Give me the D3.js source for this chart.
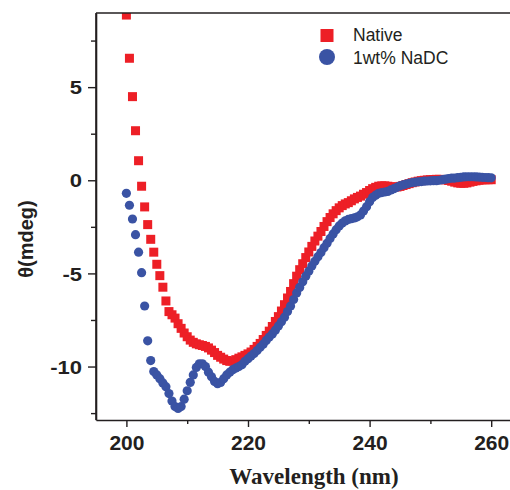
<!DOCTYPE html>
<html><head><meta charset="utf-8">
<script src="https://cdn.jsdelivr.net/npm/d3@7"></script>
<style>
html,body{margin:0;padding:0;background:#fff;}
svg{display:block;}
</style></head>
<body>
<svg id="chart" width="510" height="490"></svg>
<script>
const wavelength = [
200,200.5,201,201.5,202,202.5,203,203.5,204,204.5,
205,205.5,206,206.5,207,207.5,208,208.5,209,209.5,
210,210.5,211,211.5,212,212.5,213,213.5,214,214.5,
215,215.5,216,216.5,217,217.5,218,218.5,219,219.5,
220,220.5,221,221.5,222,222.5,223,223.5,224,224.5,
225,225.5,226,226.5,227,227.5,228,228.5,229,229.5,
230,230.5,231,231.5,232,232.5,233,233.5,234,234.5,
235,235.5,236,236.5,237,237.5,238,238.5,239,239.5,
240,240.5,241,241.5,242,242.5,243,243.5,244,244.5,
245,245.5,246,246.5,247,247.5,248,248.5,249,249.5,
250,250.5,251,251.5,252,252.5,253,253.5,254,254.5,
255,255.5,256,256.5,257,257.5,258,258.5,259,259.5,
260];

const nativeVals = [
8.87,6.55,4.49,2.66,1.05,-0.32,-1.43,-2.38,-3.17,-3.86,
-4.51,-5.12,-5.74,-6.48,-7.05,-7.22,-7.4,-7.7,-7.95,-8.2,
-8.4,-8.58,-8.7,-8.78,-8.83,-8.87,-8.92,-9.0,-9.12,-9.25,
-9.4,-9.5,-9.6,-9.68,-9.72,-9.7,-9.63,-9.55,-9.48,-9.4,
-9.32,-9.22,-9.08,-8.92,-8.76,-8.55,-8.33,-8.1,-7.85,-7.58,
-7.32,-7.02,-6.68,-6.32,-5.97,-5.55,-5.15,-4.8,-4.48,-4.15,
-3.85,-3.55,-3.26,-3.0,-2.75,-2.48,-2.22,-2.0,-1.8,-1.63,
-1.48,-1.36,-1.27,-1.2,-1.1,-1.0,-0.92,-0.85,-0.75,-0.66,
-0.55,-0.45,-0.38,-0.32,-0.3,-0.3,-0.32,-0.35,-0.37,-0.36,
-0.33,-0.28,-0.23,-0.18,-0.13,-0.09,-0.05,-0.02,0.0,0.02,
0.03,0.04,0.05,0.05,0.04,0.02,-0.01,-0.05,-0.1,-0.14,
-0.16,-0.16,-0.14,-0.1,-0.06,-0.03,0.0,0.02,0.03,0.03,
0.03];

const nadcVals = [
-0.70,-1.34,-2.08,-2.92,-3.86,-4.96,-6.75,-8.62,-9.68,-10.27,
-10.45,-10.65,-10.88,-11.08,-11.45,-11.85,-12.15,-12.25,-12.15,-11.75,
-11.3,-10.85,-10.45,-10.05,-9.85,-9.85,-10.0,-10.3,-10.55,-10.8,
-10.92,-10.85,-10.65,-10.45,-10.3,-10.17,-10.08,-10.0,-9.9,-9.72,
-9.58,-9.44,-9.3,-9.14,-8.97,-8.8,-8.6,-8.42,-8.25,-8.05,
-7.82,-7.6,-7.35,-7.05,-6.75,-6.4,-6.05,-5.75,-5.45,-5.15,
-4.88,-4.6,-4.35,-4.1,-3.88,-3.62,-3.38,-3.12,-2.88,-2.65,
-2.45,-2.3,-2.18,-2.1,-2.06,-2.02,-1.96,-1.86,-1.65,-1.42,
-1.15,-0.92,-0.8,-0.7,-0.66,-0.63,-0.6,-0.52,-0.45,-0.38,
-0.3,-0.25,-0.2,-0.16,-0.12,-0.1,-0.08,-0.07,-0.05,-0.04,
-0.03,-0.02,-0.02,0.0,0.03,0.06,0.09,0.11,0.12,0.14,
0.16,0.18,0.19,0.19,0.19,0.18,0.17,0.16,0.15,0.14,
0.13];

const seriesNames = ["Native", "1wt% NaDC"];
const xMajorTicks = [200, 220, 240, 260];
const xMinorTicks = [210, 230, 250];
const yMajorTicks = [-10, -5, 0, 5];
const yMinorTicks = [-12.5, -7.5, -2.5, 2.5, 7.5];

const RED = "#ED1F26", BLUE = "#3A53A4", INK = "#231F20";
const SANS = "'Liberation Sans', Arial, Helvetica, sans-serif";
const SERIF = "'Liberation Serif', 'Times New Roman', serif";

const L = 96, T = 13, B = 420, R = 521.6;
const x = d3.scaleLinear().domain([195, 265]).range([L, R]);
const y = d3.scaleLinear().domain([-12.87, 8.98]).range([B, T]);

const svg = d3.select("#chart");

svg.append("defs").append("clipPath").attr("id", "plotClip")
  .append("rect").attr("x", L).attr("y", T).attr("width", R - L).attr("height", B - T);

const plot = svg.append("g").attr("clip-path", "url(#plotClip)");

const sq = 9;
plot.append("g").selectAll("rect")
  .data(wavelength.map((w, i) => [w, nativeVals[i]]))
  .join("rect")
  .attr("x", d => x(d[0]) - sq / 2)
  .attr("y", d => y(d[1]) - sq / 2)
  .attr("width", sq).attr("height", sq)
  .attr("fill", RED);

plot.append("g").selectAll("circle")
  .data(wavelength.map((w, i) => [w, nadcVals[i]]))
  .join("circle")
  .attr("cx", d => x(d[0]))
  .attr("cy", d => y(d[1]))
  .attr("r", 4.6)
  .attr("fill", BLUE);

// axes
const xAxis = svg.append("g").attr("transform", `translate(0,${B})`)
  .call(d3.axisBottom(x).tickValues(xMajorTicks).tickSize(7).tickSizeOuter(0).tickPadding(8).tickFormat(d => String(d)));
svg.append("g").attr("transform", `translate(0,${B})`)
  .call(d3.axisBottom(x).tickValues(xMinorTicks).tickSize(4).tickSizeOuter(0).tickFormat(""))
  .select(".domain").remove();

const yAxis = svg.append("g").attr("transform", `translate(${L},0)`)
  .call(d3.axisLeft(y).tickValues(yMajorTicks).tickSize(8).tickSizeOuter(0).tickFormat(d => String(d)));
svg.append("g").attr("transform", `translate(${L},0)`)
  .call(d3.axisLeft(y).tickValues(yMinorTicks).tickSize(5).tickSizeOuter(0).tickFormat(""))
  .select(".domain").remove();

svg.selectAll(".domain").attr("stroke", INK).attr("stroke-width", 1.6);
svg.selectAll(".tick line").attr("stroke", INK).attr("stroke-width", 1.4);

xAxis.selectAll(".tick text")
  .attr("fill", INK).attr("font-family", SANS).attr("font-weight", "bold").attr("font-size", 21)
  .attr("y", 15).attr("dy", "0.71em");

yAxis.selectAll(".tick text")
  .attr("fill", INK).attr("font-family", SANS).attr("font-weight", "bold").attr("font-size", 19)
  .attr("x", -14 / 1.16).attr("dy", "0.35em")
  .attr("transform", "scale(1.16,1)");

// top frame line
svg.append("line").attr("x1", L).attr("x2", 515).attr("y1", T).attr("y2", T)
  .attr("stroke", INK).attr("stroke-width", 1.6);
// left frame line
svg.append("line").attr("x1", L).attr("x2", L).attr("y1", T).attr("y2", B)
  .attr("stroke", INK).attr("stroke-width", 1.6);

// axis titles
svg.append("text")
  .attr("x", 314).attr("y", 484)
  .attr("text-anchor", "middle")
  .attr("font-family", SERIF).attr("font-weight", "bold").attr("font-size", 23)
  .attr("fill", INK)
  .text("Wavelength (nm)");

svg.append("text")
  .attr("transform", "translate(33,239) rotate(-90)")
  .attr("text-anchor", "middle")
  .attr("font-family", SANS).attr("font-weight", "bold").attr("font-size", 20)
  .attr("fill", INK)
  .text("θ(mdeg)");

// legend
const lg = svg.append("g");
lg.append("rect").attr("x", 327 - 6.5).attr("y", 35.5 - 6.5).attr("width", 13).attr("height", 13).attr("fill", RED);
lg.append("circle").attr("cx", 327).attr("cy", 57).attr("r", 8).attr("fill", BLUE);
lg.selectAll("text").data(seriesNames).join("text")
  .attr("x", 353).attr("y", (d, i) => 41 + i * 22.5)
  .attr("font-family", SANS).attr("font-size", 17.5).attr("fill", INK)
  .text(d => d);
</script>
</body></html>
